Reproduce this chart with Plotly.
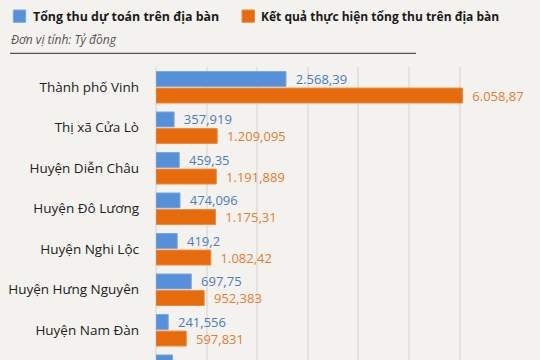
import plotly.graph_objects as go

categories = ["Thành phố Vinh", "Thị xã Cửa Lò", "Huyện Diễn Châu", "Huyện Đô Lương",
              "Huyện Nghi Lộc", "Huyện Hưng Nguyên", "Huyện Nam Đàn", "Huyện Thanh Chương"]
du_toan = [2568.39, 357.919, 459.35, 474.096, 419.2, 697.75, 241.556, 327.7]
thuc_hien = [6058.87, 1209.095, 1191.889, 1175.31, 1082.42, 952.383, 597.831, 880.5]
series_names = ["Tổng thu dự toán trên địa bàn", "Kết quả thực hiện tổng thu trên địa bàn"]
tick_values = [0, 1000, 2000, 3000, 4000, 5000, 6000]


def vn(v):
    s = f"{v:,}"
    return s.replace(",", "#").replace(".", ",").replace("#", ".")


BLUE = "#5590d9"
ORANGE = "#e56b0c"
BG = "#f4f2ee"
FONT = "Open Sans"

W, H = 540, 360
L, T = 156, 67
PW, PH = W - L, H - T


def px(x):
    return (x - L) / PW


def py(y):
    return (H - y) / PH


fig = go.Figure()
fig.add_trace(go.Bar(
    y=categories, x=du_toan, orientation="h", name=series_names[0],
    marker=dict(color=BLUE, line=dict(color="#7aa8e3", width=1)),
    text=["  " + vn(v) for v in du_toan], textposition="outside", constraintext="none",
    textfont=dict(color="#4a7cc4", size=13, family=FONT), cliponaxis=False,
))
fig.add_trace(go.Bar(
    y=categories, x=thuc_hien, orientation="h", name=series_names[1],
    marker=dict(color=ORANGE, line=dict(color="#ef8a3e", width=1)),
    text=["  " + vn(v) for v in thuc_hien], textposition="outside", constraintext="none",
    textfont=dict(color="#ea7a30", size=13, family=FONT), cliponaxis=False,
))

fig.update_layout(
    width=W, height=H, margin=dict(l=L, r=0, t=T, b=0),
    paper_bgcolor=BG, plot_bgcolor=BG,
    barmode="group", bargap=0.18, bargroupgap=0.1,
    showlegend=False,
    font=dict(family=FONT, color="#222"),
    xaxis=dict(range=[0, PW / 50.6 * 1000], tickvals=tick_values, showticklabels=False,
               showgrid=True, gridcolor="#e4e2de", gridwidth=1.5, zeroline=True,
               zerolinecolor="#e4e2de", zerolinewidth=1.5, fixedrange=True, automargin=False),
    yaxis=dict(range=[-0.5 + PH / 40.5, -0.5], tickfont=dict(size=13.5, color="#222", family=FONT),
               ticklabelstandoff=16, showgrid=False, zeroline=False, ticks="", automargin=False),
)

# legend (manual)
for x0, x1, col, lc in [(13.3, 25.7, BLUE, "#7aa8e3"), (242, 254.5, ORANGE, "#ef8a3e")]:
    fig.add_shape(type="rect", xref="paper", yref="paper",
                  x0=px(x0), x1=px(x1), y0=py(22.3), y1=py(10),
                  fillcolor=col, line=dict(color=lc, width=1))
for x, name, size in [(31, series_names[0], 12.4), (259, series_names[1], 12)]:
    fig.add_annotation(xref="paper", yref="paper", x=px(x), y=py(16.5), xanchor="left",
                       yanchor="middle", text="<b>" + name + "</b>", showarrow=False,
                       font=dict(size=size, color="#1a1a1a", family=FONT))

fig.add_annotation(xref="paper", yref="paper", x=px(9), y=py(40), xanchor="left",
                   yanchor="middle", text="<i>Đơn vị tính: Tỷ đồng</i>", showarrow=False,
                   font=dict(size=12, color="#555", family=FONT))
fig.add_shape(type="line", xref="paper", yref="paper", x0=px(10), x1=px(416),
              y0=py(53.3), y1=py(53.3), line=dict(color="#555", width=1.3))

fig.write_html("out.html", config={"displayModeBar": False},
               post_script="document.body.style.margin='0px';document.body.style.overflow='hidden';")
